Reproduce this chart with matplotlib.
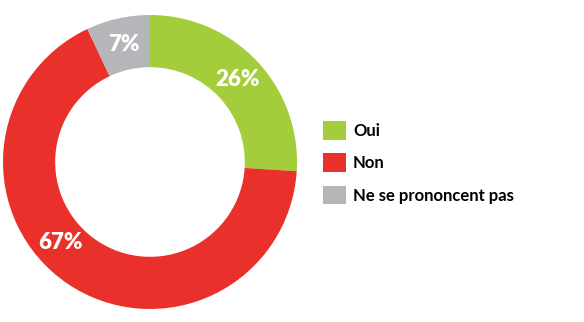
import matplotlib.pyplot as plt
from matplotlib.patches import Patch
import numpy as np

labels = ["Oui", "Non", "Ne se prononcent pas"]
shares = [26, 67, 7]
colors = ["#a3cd3b", "#e9302b", "#b4b6ba"]
# angle (deg) where the percent text sits, None = middle of the wedge
label_angles = [None, 222, None]

fig = plt.figure(figsize=(5.84, 3.22), dpi=100)
ax = fig.add_axes([3 / 584, 13 / 322, 294 / 584, 294 / 322])

wedges, _ = ax.pie(
    shares,
    colors=colors,
    startangle=90,
    counterclock=False,
    radius=1,
    wedgeprops=dict(width=0.355, linewidth=0),
)
ax.set_xlim(-1, 1)
ax.set_ylim(-1, 1)
ax.set_aspect("equal")
ax.axis("off")

# percent labels
start = 90
for share, ang in zip(shares, label_angles):
    span = share / sum(shares) * 360
    mid = start - span / 2
    if ang is not None:
        mid = ang
    r = 0.82
    ax.text(
        r * np.cos(np.radians(mid)),
        r * np.sin(np.radians(mid)),
        f"{share}%",
        ha="center",
        va="center",
        color="white",
        fontsize=16,
        fontweight="heavy",
        family="Lato",
    )
    start -= span

handles = [Patch(facecolor=c, edgecolor="none") for c in colors]
leg = fig.legend(
    handles,
    labels,
    loc="upper left",
    bbox_to_anchor=(323 / 584, 1 - 121 / 322),
    frameon=False,
    prop=dict(family="Lato", weight="bold", size=12),
    handlelength=1.35,
    handleheight=1.35,
    handletextpad=0.45,
    labelspacing=0.82,
    borderaxespad=0,
    borderpad=0,
)

fig.savefig("out.png", dpi=100)
